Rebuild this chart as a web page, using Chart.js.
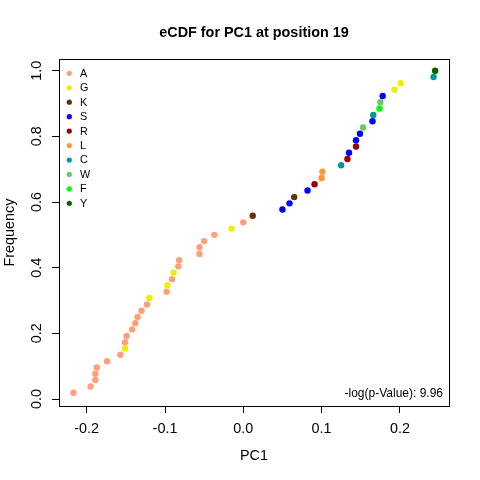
<!DOCTYPE html>
<html>
<head>
<meta charset="utf-8" />
<title>eCDF for PC1 at position 19</title>
<script src="https://cdn.jsdelivr.net/npm/chart.js@4.4.1/dist/chart.umd.min.js"></script>
<style>
  html, body { margin: 0; padding: 0; background: #fff; }
  #wrap { width: 480px; height: 480px; }
</style>
</head>
<body>
<div id="wrap"><canvas id="ecdf" width="480" height="480"></canvas></div>

<script>
// residues in legend order and their colours
const residues = ['A', 'G', 'K', 'S', 'R', 'L', 'C', 'W', 'F', 'Y'];
const residueColors = ['#FFA07A', '#EEEE00', '#663300', '#0000FF', '#990000',
                       '#FF9933', '#009999', '#66CC66', '#00FF00', '#006400'];

// PC1 value of each point (sorted)
const pc1 = [-0.217, -0.195, -0.189, -0.189, -0.187, -0.174, -0.157, -0.151, -0.151, -0.149,
             -0.142, -0.138, -0.135, -0.130, -0.123, -0.120, -0.098, -0.097, -0.091, -0.089,
             -0.083, -0.082, -0.056, -0.056, -0.050, -0.037, -0.015, 0.000, 0.012, 0.050,
              0.059, 0.065, 0.082, 0.091, 0.100, 0.101, 0.125, 0.133, 0.135, 0.144,
              0.144, 0.149, 0.153, 0.165, 0.166, 0.174, 0.175, 0.178, 0.193, 0.201,
              0.243, 0.245];

// cumulative frequency of each point
const freq = [0.019, 0.038, 0.058, 0.077, 0.096, 0.115, 0.135, 0.154, 0.173, 0.192,
              0.212, 0.231, 0.250, 0.269, 0.288, 0.308, 0.327, 0.346, 0.365, 0.385,
              0.404, 0.423, 0.442, 0.462, 0.481, 0.500, 0.519, 0.538, 0.558, 0.577,
              0.596, 0.615, 0.635, 0.654, 0.673, 0.692, 0.712, 0.731, 0.750, 0.769,
              0.788, 0.808, 0.827, 0.846, 0.865, 0.885, 0.904, 0.923, 0.942, 0.962,
              0.981, 1.000];

// residue at each point
const pointResidue = ['A','A','A','A','A','A','A','G','A','A',
                      'A','A','A','A','A','G','A','G','A','G',
                      'A','A','A','A','A','A','G','A','K','S',
                      'S','K','S','R','L','L','C','R','S','R',
                      'S','S','W','S','C','F','W','S','G','G',
                      'C','Y'];

const xTicks = [-0.2, -0.1, 0.0, 0.1, 0.2];
const yTicks = [0.0, 0.2, 0.4, 0.6, 0.8, 1.0];

const titleText = 'eCDF for PC1 at position 19';
const pValueText = '-log(p-Value): 9.96';

const FONT = '"Liberation Sans", Arial, sans-serif';

function fmt(v) {
  if (Math.abs(v) < 1e-9) return '0.0';
  return v.toFixed(1);
}

const points = pc1.map(function (x, i) { return { x: x, y: freq[i] }; });
const pointColors = pointResidue.map(function (r) { return residueColors[residues.indexOf(r)]; });

// box, title, legend and p-value note, like base R graphics
const decorations = {
  id: 'decorations',
  afterDraw: function (chart) {
    const ctx = chart.ctx;
    const a = chart.chartArea;
    ctx.save();
    ctx.strokeStyle = '#000';
    ctx.lineWidth = 1;
    ctx.strokeRect(Math.round(a.left) + 0.5, Math.round(a.top) + 0.5,
                   Math.round(a.right - a.left), Math.round(a.bottom - a.top));

    ctx.fillStyle = '#000';
    ctx.font = 'bold 14.4px ' + FONT;
    ctx.textAlign = 'center';
    ctx.textBaseline = 'middle';
    ctx.fillText(titleText, (a.left + a.right) / 2, 33);

    // legend
    ctx.font = '10.8px ' + FONT;
    ctx.textAlign = 'left';
    residues.forEach(function (r, i) {
      const y = a.top + 14.3 + i * 14.45;
      ctx.fillStyle = residueColors[i];
      ctx.beginPath();
      ctx.arc(a.left + 10.3, y, 2.6, 0, Math.PI * 2);
      ctx.fill();
      ctx.fillStyle = '#000';
      ctx.fillText(r, a.left + 21, y + 0.5);
    });

    ctx.font = '12px ' + FONT;
    ctx.textAlign = 'right';
    ctx.fillText(pValueText, a.right - 6, a.bottom - 12);
    ctx.restore();
  }
};

new Chart(document.getElementById('ecdf'), {
  type: 'scatter',
  data: {
    datasets: [{
      data: points,
      pointBackgroundColor: pointColors,
      pointBorderWidth: 0,
      pointRadius: 3.2,
      pointHoverRadius: 3.2
    }]
  },
  options: {
    responsive: false,
    animation: false,
    layout: { padding: { top: 59, right: 31, left: 0, bottom: 0 } },
    plugins: { legend: { display: false }, tooltip: { enabled: false } },
    scales: {
      x: {
        type: 'linear',
        min: -0.2354,
        max: 0.2627,
        afterBuildTicks: function (s) { s.ticks = xTicks.map(function (v) { return { value: v }; }); },
        afterFit: function (s) { s.height = 74; },
        border: { display: false },
        grid: { drawOnChartArea: false, color: '#000', tickLength: 7, tickColor: '#000' },
        ticks: {
          color: '#000', padding: 7, maxRotation: 0,
          font: { family: FONT, size: 14.4 },
          callback: function (v) { return fmt(v); }
        },
        title: {
          display: true, text: 'PC1', color: '#000',
          font: { family: FONT, size: 14.4 },
          padding: { top: 0, bottom: 15 }
        }
      },
      y: {
        type: 'linear',
        min: -0.0213,
        max: 1.0356,
        afterBuildTicks: function (s) { s.ticks = yTicks.map(function (v) { return { value: v }; }); },
        afterFit: function (s) { s.width = 59; },
        border: { display: false },
        grid: { drawOnChartArea: false, color: '#000', tickLength: 7, tickColor: '#000' },
        ticks: {
          color: '#000', padding: 5, minRotation: 90, maxRotation: 90, crossAlign: 'center',
          font: { family: FONT, size: 14.4 },
          callback: function (v) { return fmt(v); }
        },
        title: {
          display: true, text: 'Frequency', color: '#000',
          font: { family: FONT, size: 14.4 },
          padding: { top: 1.5, bottom: 0 }
        }
      }
    }
  },
  plugins: [decorations]
});
</script>
</body>
</html>
